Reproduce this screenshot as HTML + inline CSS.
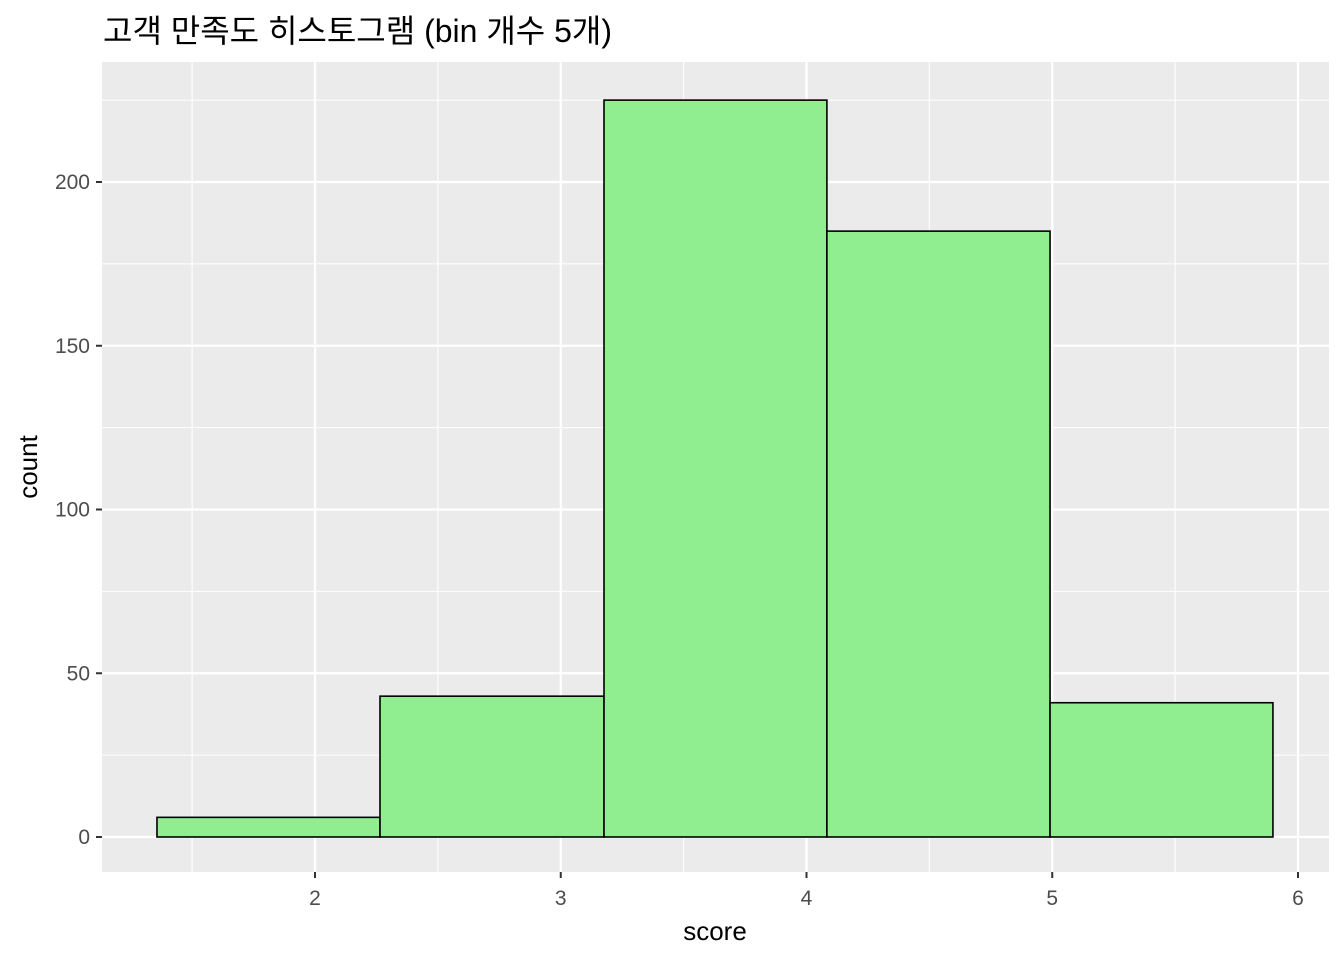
<!DOCTYPE html>
<html><head><meta charset="utf-8"><style>
html,body{margin:0;padding:0;background:#fff;}
svg{display:block;font-family:"Liberation Sans","Noto Sans CJK KR",sans-serif;}
</style></head><body>
<svg id="chart" width="1344" height="960">
<text x="103" y="42" font-size="32" fill="#000">고객 만족도 히스토그램 (bin 개수 5개)</text>
<rect x="102" y="62" width="1227" height="810" fill="#ebebeb"/>
<g id="grid"></g>
<g id="bars"></g>
<g id="axes"></g>
<text x="715" y="940" font-size="26" text-anchor="middle" fill="#000">score</text>
<text transform="translate(37,467) rotate(-90)" font-size="26" text-anchor="middle" fill="#000">count</text>
</svg>
<script>
const binStarts = [1.357, 2.2645, 3.176, 4.083, 4.991];
const binEnds = [2.2645, 3.176, 4.083, 4.991, 5.898];
const counts = [6, 43, 225, 185, 41];
const xTicks = [2, 3, 4, 5, 6];
const xMinor = [1.5, 2.5, 3.5, 4.5, 5.5];
const yTicks = [0, 50, 100, 150, 200];
const yMinor = [25, 75, 125, 175, 225];

const ns = "http://www.w3.org/2000/svg";
const xs = v => 315 + (v - 2) * 245.75;
const ys = v => 837 - v * 3.275;
function mk(tag, attrs, parent) {
  const e = document.createElementNS(ns, tag);
  for (const k in attrs) e.setAttribute(k, attrs[k]);
  document.getElementById(parent).appendChild(e);
  return e;
}
xMinor.forEach(v => {
  const l = mk('line', {x1: xs(v), x2: xs(v), y1: 62, y2: 872, stroke: '#fff', 'stroke-width': 1.1}, 'grid');
  
  
});
yMinor.forEach(v => {
  const l = mk('line', {x1: 102, x2: 1329, y1: ys(v), y2: ys(v), stroke: '#fff', 'stroke-width': 1.1}, 'grid');
  
  
});
xTicks.forEach(v => {
  const l = mk('line', {x1: xs(v), x2: xs(v), y1: 62, y2: 872, stroke: '#fff', 'stroke-width': 2.2}, 'grid');
  
  
  const t = mk('line', {x1: xs(v), x2: xs(v), y1: 872, y2: 878, stroke: '#333', 'stroke-width': 2}, 'axes');
  
  
  const tx = mk('text', {x: xs(v), y: 905, 'font-size': 21, 'text-anchor': 'middle', fill: '#4d4d4d'}, 'axes');
  tx.textContent = v;
  
  
});
yTicks.forEach(v => {
  const l = mk('line', {x1: 102, x2: 1329, y1: ys(v), y2: ys(v), stroke: '#fff', 'stroke-width': 2.2}, 'grid');
  
  
  const t = mk('line', {x1: 96, x2: 102, y1: ys(v), y2: ys(v), stroke: '#333', 'stroke-width': 2}, 'axes');
  
  
  const tx = mk('text', {x: 90, y: ys(v) + 7, 'font-size': 21, 'text-anchor': 'end', fill: '#4d4d4d'}, 'axes');
  tx.textContent = v;
  
  
});
counts.forEach((c, i) => {
  const x0 = xs(binStarts[i]), x1 = xs(binEnds[i]);
  const r = mk('rect', {x: x0, y: ys(c), width: x1 - x0, height: ys(0) - ys(c), fill: '#90ee90', stroke: '#000', 'stroke-width': 1.6}, 'bars');
  
  
});
</script>
</body></html>
